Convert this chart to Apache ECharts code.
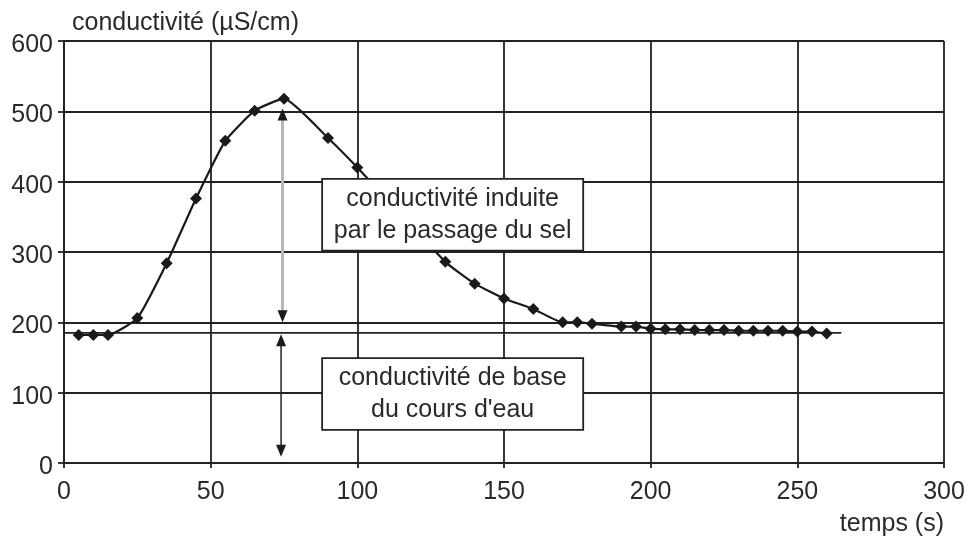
<!DOCTYPE html>
<html>
<head>
<meta charset="utf-8">
<script src="https://cdn.jsdelivr.net/npm/echarts@6/dist/echarts.min.js"></script>
<style>
html,body{margin:0;padding:0;background:#fff;}
#chart{width:974px;height:539px;}
</style>
</head>
<body>
<div id="chart"></div>
<script>
// ---- data ----
var times = [5,10,15,25,35,45,55,65,75,90,100,130,140,150,160,170,175,180,190,195,200,205,210,215,220,225,230,235,240,245,250,255,260];
var conductivity = [182,182,182,206,284,376,458,501,518,462,420,286,255,234,219,200,200,198,194,194,191,190,190,189,189,189,188,188,188,188,187,187,184];
var baseTimes = [0, 265];
var baseValue = [185, 185];
var xTicks = [0,50,100,150,200,250,300];
var yTicks = [0,100,200,300,400,500,600];
var yTitle = 'conductivité (µS/cm)';
var xTitle = 'temps (s)';
// annotation boxes: [t0, t1, vLow, vHigh]
var boxRanges = [[88,177,302,404],[88,177,47,149]];
var boxTexts = ['conductivité induite\npar le passage du sel','conductivité de base\ndu cours d\'eau'];
// arrows: [t, vTop, vBottom]
var arrowRanges = [[74.5,504,200],[74,183,9]];

var FONT = '"Liberation Sans", Arial, sans-serif';
var DARK = '#222';
var TXT = '#2a2a2a';
var FS = 25;
var arrowShaftColors = ['#b8b8b8', '#222'];
var arrowShaftWidths = [3, 1.5];

var chart = echarts.init(document.getElementById('chart'), null, {renderer:'canvas'});

var lineData = times.map(function(t,i){return [t, conductivity[i]];});
var baseData = baseTimes.map(function(t,i){return [t, baseValue[i]];});

var option = {
  backgroundColor:'#fff',
  animation:false,
  textStyle:{fontFamily:FONT},
  grid:{left:64,right:30,top:41,bottom:76,containLabel:false},
  xAxis:{
    type:'value', min:xTicks[0], max:xTicks[xTicks.length-1], interval:50,
    axisLine:{show:true,lineStyle:{color:DARK,width:1.8}},
    axisTick:{show:true,inside:false,length:5,lineStyle:{color:DARK,width:1.8}},
    splitLine:{show:true,lineStyle:{color:DARK,width:1.8}},
    axisLabel:{color:TXT,fontSize:FS,margin:17,fontFamily:FONT}
  },
  yAxis:{
    type:'value', min:yTicks[0], max:yTicks[yTicks.length-1], interval:100,
    name:yTitle, nameLocation:'end', nameGap:5,
    nameTextStyle:{color:TXT,fontSize:FS,fontFamily:FONT,align:'left',padding:[0,0,0,8]},
    axisLine:{show:true,lineStyle:{color:DARK,width:1.8}},
    axisTick:{show:true,inside:false,length:6,lineStyle:{color:DARK,width:1.8}},
    splitLine:{show:true,lineStyle:{color:DARK,width:1.8}},
    axisLabel:{
      margin:11,
      formatter:'{a|{value}}',
      rich:{a:{color:TXT,fontSize:FS,fontFamily:FONT,padding:[8,0,0,0]}}
    }
  },
  graphic:[{
    type:'text', right:30, bottom:2,
    style:{text:xTitle, fill:TXT, font:FS+'px '+FONT}
  }],
  series:[
    {
      type:'line', data:baseData, symbol:'none', z:2,
      lineStyle:{color:DARK,width:1.8}, silent:true
    },
    {
      type:'line', data:lineData, smooth:0.15, z:3,
      symbol:'diamond', symbolSize:12,
      itemStyle:{color:'#1a1a1a'},
      lineStyle:{color:'#1a1a1a',width:2.2}
    },
    {
      type:'custom', z:10,
      data:boxRanges.map(function(b,i){return [b[0],b[1],b[2],b[3],i];}),
      renderItem:function(params, api){
        var p0 = api.coord([api.value(0), api.value(3)]);
        var p1 = api.coord([api.value(1), api.value(2)]);
        var idx = api.value(4);
        return {
          type:'group',
          children:[
            {type:'rect', shape:{x:p0[0], y:p0[1], width:p1[0]-p0[0], height:p1[1]-p0[1]},
             style:{fill:'#fff', stroke:DARK, lineWidth:1.8}},
            {type:'text', x:(p0[0]+p1[0])/2, y:(p0[1]+p1[1])/2,
             style:{text:boxTexts[idx], fill:TXT, font:FS+'px '+FONT, align:'center', verticalAlign:'middle', lineHeight:32}}
          ]
        };
      }
    },
    {
      type:'custom', z:9,
      data:arrowRanges.map(function(a,i){return [a[0],a[1],a[2],i];}),
      renderItem:function(params, api){
        var top = api.coord([api.value(0), api.value(1)]);
        var bot = api.coord([api.value(0), api.value(2)]);
        var idx = api.value(3);
        var x = top[0], hl = 12, hw = 5;
        return {
          type:'group',
          children:[
            {type:'line', shape:{x1:x, y1:top[1]+hl-1, x2:x, y2:bot[1]-hl+1},
             style:{stroke:arrowShaftColors[idx], lineWidth:arrowShaftWidths[idx]}},
            {type:'polygon', shape:{points:[[x,top[1]],[x-hw,top[1]+hl],[x+hw,top[1]+hl]]},
             style:{fill:'#1a1a1a'}},
            {type:'polygon', shape:{points:[[x,bot[1]],[x-hw,bot[1]-hl],[x+hw,bot[1]-hl]]},
             style:{fill:'#1a1a1a'}}
          ]
        };
      }
    }
  ]
};
chart.setOption(option);
</script>
</body>
</html>
